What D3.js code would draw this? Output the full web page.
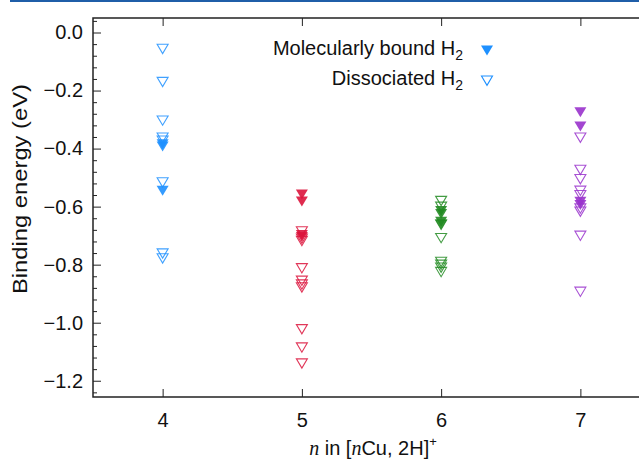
<!DOCTYPE html>
<html>
<head>
<meta charset="utf-8">
<script src="https://cdn.jsdelivr.net/npm/d3@7"></script>
<style>
  body { margin: 0; background: #fff; }
  svg { display: block; font-family: "Liberation Sans", Arial, sans-serif; }
  .axis path { display: none; }
  .axis line { stroke: #222; stroke-width: 1; }
  .axis text { font-size: 20px; fill: #111; font-family: "Liberation Sans", Arial, sans-serif; }
</style>
</head>
<body>
<svg width="639" height="460"></svg>
<script>
const svg = d3.select("svg"),
      width = +svg.attr("width"),
      height = +svg.attr("height");

// cluster size n
const nValues = [4, 5, 6, 7];

// binding energies (eV), one list per n
const boundH2 = [
    [-0.385, -0.393, -0.545],
    [-0.558, -0.582, -0.698, -0.705],
    [-0.615, -0.625, -0.652, -0.662],
    [-0.275, -0.324, -0.583, -0.594]
];
const dissociatedH2 = [
    [-0.056, -0.170, -0.303, -0.362, -0.372, -0.516, -0.761, -0.778],
    [-0.685, -0.710, -0.718, -0.812, -0.855, -0.868, -0.878, -1.022, -1.085, -1.140],
    [-0.580, -0.600, -0.662, -0.708, -0.790, -0.800, -0.810, -0.825],
    [-0.362, -0.473, -0.505, -0.545, -0.560, -0.606, -0.617, -0.700, -0.893]
];

const yTicks = [0.0, -0.2, -0.4, -0.6, -0.8, -1.0, -1.2];
const xTicks = [4, 5, 6, 7];
const legendLabels = ["Molecularly bound H", "Dissociated H"];

const colors = ["#1e90ff", "#dc143c", "#228b22", "#9932cc"];

const plotLeft = 93, plotTop = 18, plotBottom = 397, plotRight = 650;

const x = d3.scaleLinear().domain([3.5, 7.5]).range([plotLeft, plotRight]);
const y = d3.scaleLinear().domain([-1.256, 0.05]).range([plotBottom, plotTop]);

// blue line along the top of the page
svg.append("line")
    .attr("x1", 10).attr("x2", width)
    .attr("y1", 1).attr("y2", 1)
    .attr("stroke", "#1f5ea8")
    .attr("stroke-width", 2);

// triangle pointing down
const tri = "M-6,-5L6,-5L0,5Z";
const triOpen = "M-5.5,-4.5L5.5,-4.5L0,4.8Z";

// points
nValues.forEach((n, i) => {
    const g = svg.append("g");
    g.selectAll("path.bound")
        .data(boundH2[i])
        .enter().append("path")
        .attr("class", "bound")
        .attr("d", tri)
        .attr("transform", d => `translate(${x(n)},${y(d)})`)
        .attr("fill", colors[i])
        .attr("fill-opacity", 0.9);
    g.selectAll("path.diss")
        .data(dissociatedH2[i])
        .enter().append("path")
        .attr("class", "diss")
        .attr("d", triOpen)
        .attr("transform", d => `translate(${x(n)},${y(d)})`)
        .attr("fill", "none")
        .attr("stroke", colors[i])
        .attr("stroke-opacity", 0.85)
        .attr("stroke-width", 1.1);
});

// axes (ticks pointing inward)
svg.append("g")
    .attr("class", "axis")
    .attr("transform", `translate(${plotLeft},0)`)
    .call(d3.axisLeft(y).tickValues(yTicks).tickSize(-8).tickPadding(10)
        .tickFormat(d3.format(".1f")));

const minor = d3.range(0.04, -1.25, -0.04).filter(v => !yTicks.some(t => Math.abs(t - v) < 1e-6));
svg.append("g")
    .attr("class", "axis")
    .attr("transform", `translate(${plotLeft},0)`)
    .call(d3.axisLeft(y).tickValues(minor).tickSize(-4).tickFormat(""));

svg.append("g")
    .attr("class", "axis")
    .attr("transform", `translate(0,${plotBottom})`)
    .call(d3.axisBottom(x).tickValues(xTicks).tickSize(-8).tickPadding(16)
        .tickFormat(d3.format("d")));

svg.append("g")
    .attr("class", "axis")
    .attr("transform", `translate(0,${plotTop})`)
    .call(d3.axisTop(x).tickValues(xTicks).tickSize(-8).tickFormat(""));

// frame
svg.append("path")
    .attr("d", `M${width},${plotTop}H${plotLeft}V${plotBottom}H${width}`)
    .attr("fill", "none")
    .attr("stroke", "#222")
    .attr("stroke-width", 1.5);

// legend
const legend = svg.append("g");
legendLabels.forEach((lab, i) => {
    const ly = 55 + i * 30;
    const t = legend.append("text")
        .attr("x", 463)
        .attr("y", ly)
        .attr("text-anchor", "end")
        .attr("font-size", 20)
        .attr("fill", "#111");
    t.append("tspan").text(lab);
    t.append("tspan").attr("dy", 5).attr("font-size", 14).text("2");
    legend.append("path")
        .attr("d", i === 0 ? tri : triOpen)
        .attr("transform", `translate(487,${ly - 4.5})`)
        .attr("fill", i === 0 ? colors[0] : "none")
        .attr("stroke", i === 0 ? "none" : colors[0])
        .attr("stroke-width", 1.1);
});

// axis labels
svg.append("text")
    .attr("transform", "translate(27,189) rotate(-90)")
    .attr("text-anchor", "middle")
    .attr("font-size", 20)
    .attr("textLength", 210)
    .attr("lengthAdjust", "spacingAndGlyphs")
    .attr("fill", "#111")
    .text("Binding energy (eV)");

const xl = svg.append("text")
    .attr("x", 373)
    .attr("y", 455)
    .attr("text-anchor", "middle")
    .attr("font-size", 20)
    .attr("fill", "#111");
xl.append("tspan").attr("font-family", "Liberation Serif, serif").attr("font-style", "italic").text("n");
xl.append("tspan").text(" in [");
xl.append("tspan").attr("font-family", "Liberation Serif, serif").attr("font-style", "italic").text("n");
xl.append("tspan").text("Cu, 2H]");
xl.append("tspan").attr("dy", -9).attr("font-size", 13).text("+");
</script>
</body>
</html>
